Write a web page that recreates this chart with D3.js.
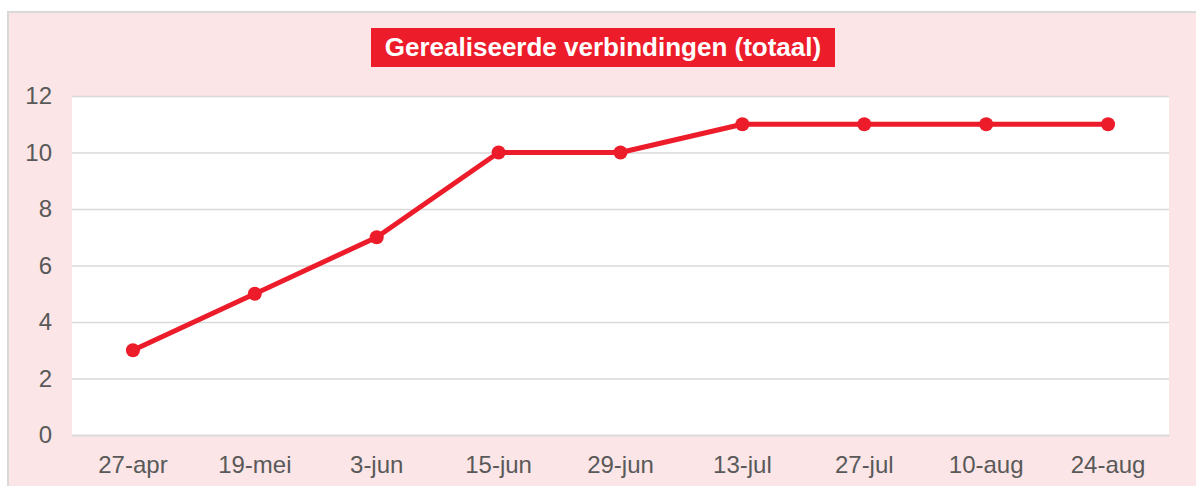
<!DOCTYPE html>
<html><head><meta charset="utf-8">
<script src="https://cdn.jsdelivr.net/npm/d3@7"></script>
<style>html,body{margin:0;padding:0;background:#fff;}svg{display:block;}</style>
</head><body><svg id="c" width="1196" height="486"></svg>
<script>
const categories = ["27-apr","19-mei","3-jun","15-jun","29-jun","13-jul","27-jul","10-aug","24-aug"];
const values = [3,5,7,10,10,11,11,11,11];
const yTicks = [0,2,4,6,8,10,12];
const title = "Gerealiseerde verbindingen (totaal)";

const svg = d3.select("#c");
const W = 1196, H = 486;
const plot = {l:72, r:1169, t:96, b:435};
const red = "#ed1c2a", txt = "#595959", grid = "#d9d9d9";
const font = "Liberation Sans, Arial, sans-serif";

svg.append("rect").attr("x",8).attr("y",12).attr("width",W+10).attr("height",H+10)
  .attr("fill","#fbe5e6").attr("stroke","#d9d9d9").attr("stroke-width",2);
svg.append("rect").attr("x",plot.l).attr("y",plot.t).attr("width",plot.r-plot.l).attr("height",plot.b-plot.t).attr("fill","#fff");

const x = d3.scaleBand().domain(categories).range([plot.l,plot.r]);
const y = d3.scaleLinear().domain([0,12]).range([plot.b,plot.t]);

const yAxis = svg.append("g").attr("transform",`translate(${plot.l},0)`)
  .call(d3.axisLeft(y).tickValues(yTicks).tickSize(-(plot.r-plot.l)).tickPadding(20));
yAxis.select(".domain").remove();
yAxis.selectAll("line").attr("stroke",grid).attr("stroke-width",1.5);
yAxis.selectAll("text").attr("fill",txt).attr("font-family",font).attr("font-size","24px");

const xAxis = svg.append("g").attr("transform",`translate(0,${plot.b})`)
  .call(d3.axisBottom(x).tickSize(0).tickPadding(21));
xAxis.select(".domain").attr("stroke",grid).attr("stroke-width",1.5);
xAxis.selectAll("text").attr("fill",txt).attr("font-family",font).attr("font-size","24px");

const line = d3.line().x((d,i)=>x(categories[i])+x.bandwidth()/2).y(d=>y(d));
svg.append("path").datum(values).attr("d",line).attr("fill","none").attr("stroke",red).attr("stroke-width",5).attr("stroke-linejoin","round");
svg.selectAll("circle.pt").data(values).join("circle").attr("class","pt")
  .attr("cx",(d,i)=>x(categories[i])+x.bandwidth()/2).attr("cy",d=>y(d)).attr("r",7).attr("fill",red);

const tg = svg.append("g");
tg.append("rect").attr("x",371).attr("y",28).attr("width",464).attr("height",39).attr("fill",red);
tg.append("text").attr("x",603).attr("y",56).attr("text-anchor","middle")
  .attr("fill","#fff").attr("font-family",font).attr("font-weight","bold").attr("font-size","26px").text(title);
</script></body></html>
